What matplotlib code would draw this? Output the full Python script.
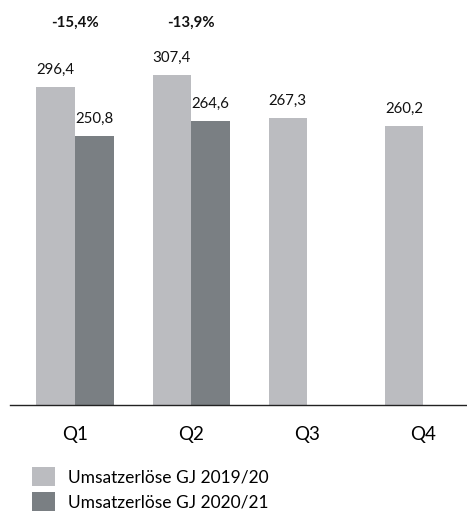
import numpy as np
import matplotlib
matplotlib.use("Agg")
import matplotlib.pyplot as plt

quarters = ["Q1", "Q2", "Q3", "Q4"]
umsatz_1920 = [296.4, 307.4, 267.3, 260.2]
umsatz_2021 = [250.8, 264.6, None, None]
veraenderung = ["-15,4%", "-13,9%", None, None]
series_labels = ["Umsatzerlöse GJ 2019/20", "Umsatzerlöse GJ 2020/21"]

light = "#bbbcc0"
dark = "#7a7f83"

plt.rcParams["font.family"] = ["Lato", "DejaVu Sans"]

fig = plt.figure(figsize=(4.67, 5.18), dpi=100)
ax = fig.add_axes([10 / 467, 113 / 518, 457 / 467, 405 / 518])

x = np.arange(len(quarters))
w = 0.332

def fmt(v):
    return f"{v:.1f}".replace(".", ",")

b1 = ax.bar(x - w / 2, umsatz_1920, width=w, color=light, label=series_labels[0])
x2 = [xi + w / 2 for xi, v in zip(x, umsatz_2021) if v is not None]
v2 = [v for v in umsatz_2021 if v is not None]
b2 = ax.bar(x2, v2, width=w, color=dark, label=series_labels[1])

for xi, v in zip(x - w / 2, umsatz_1920):
    ax.text(xi, v + 9, fmt(v), ha="center", va="bottom", fontsize=10.8, color="#111111")
for xi, v in zip(x2, v2):
    ax.text(xi, v + 9, fmt(v), ha="center", va="bottom", fontsize=10.8, color="#111111")

for xi, t in zip(x, veraenderung):
    if t:
        ax.text(xi, 356, t, ha="center", va="center", fontsize=10.8, fontweight="bold", color="#111111")

ax.set_xlim(-0.56, 3.377)
ax.set_ylim(0, 377.1)
ax.set_xticks(x)
ax.set_xticklabels(quarters, fontsize=13.5)
ax.tick_params(axis="x", length=0, pad=15)
ax.set_yticks([])
for s in ["top", "right", "left"]:
    ax.spines[s].set_visible(False)
ax.spines["bottom"].set_color("#222222")
ax.spines["bottom"].set_linewidth(1.0)

fig.legend(handles=[b1, b2], loc="upper left", bbox_to_anchor=(25 / 467, 1 - 460 / 518),
           frameon=False, fontsize=12.5, handlelength=1.32, handleheight=1.28,
           handletextpad=0.75, labelspacing=0.39, borderaxespad=0)

fig.savefig("out.png", dpi=100)
